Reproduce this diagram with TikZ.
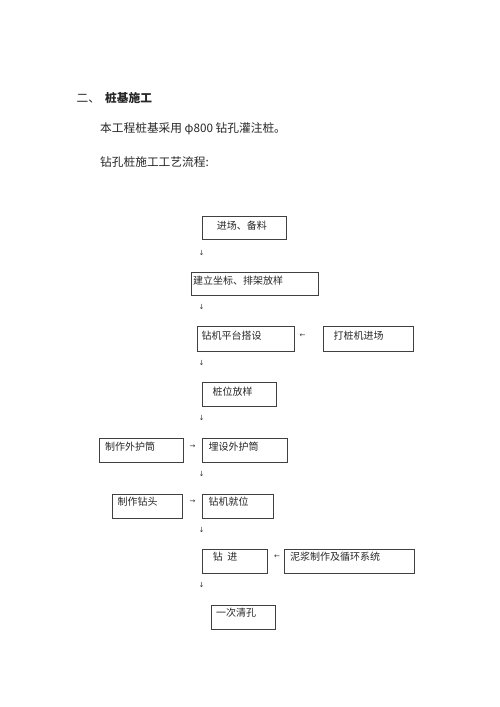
\documentclass[tikz,border=0pt]{standalone}
\usepackage{fontspec}
\newfontfamily\cjk{Noto Sans CJK SC}
\newfontfamily\arrowfont{DejaVu Sans}
\begin{document}
\begin{tikzpicture}[x=1pt,y=-1pt,
  box/.style={draw=black!75,line width=0.6pt,inner sep=0pt,anchor=north west},
  txt/.style={inner sep=0pt,anchor=west,font=\cjk\fontsize{10}{12}\selectfont,text=black!85},
  head/.style={inner sep=0pt,anchor=west,font=\cjk\fontsize{11.7}{14}\selectfont,text=black!85},
  arr/.style={inner sep=0pt,font=\arrowfont\fontsize{7}{8}\selectfont,text=black!80}]
\useasboundingbox (0,0) rectangle (500,707);
% headings
\node[head] (h1) at (76.5,98.5) {二、};
\node[head,font=\cjk\bfseries\fontsize{11.7}{14}\selectfont] (h2) at (105,98.5) {桩基施工};
\node[head] (h3) at (100,128.5) {本工程桩基采用 φ800 钻孔灌注桩。};
\node[head] (h4) at (100,162) {钻孔桩施工工艺流程:};
% boxes
\node[box,minimum width=84pt,minimum height=23.6pt] (b1) at (201.7,215.7) {};
\node[txt] (t1) at (216.7,225.5) {进场、备料};
\node[arr] (a1) at (201.5,252.5) {↓};
\node[box,minimum width=127.3pt,minimum height=23.3pt] (b2) at (190.7,271.7) {};
\node[txt] (t2) at (192.8,281) {建立坐标、排架放样};
\node[arr] (a2) at (201.5,307) {↓};
\node[box,minimum width=97.6pt,minimum height=25pt] (b3) at (196.7,325.7) {};
\node[txt] (t3) at (201.5,335.5) {钻机平台搭设};
\node[arr] (a3) at (302.5,335.5) {←};
\node[box,minimum width=90.6pt,minimum height=25pt] (b4) at (322.7,325.7) {};
\node[txt] (t4) at (333.5,335.5) {打桩机进场};
\node[arr] (a4) at (201.5,362.5) {↓};
\node[box,minimum width=73.4pt,minimum height=23.7pt] (b5) at (202.3,382.3) {};
\node[txt] (t5) at (212.3,392) {桩位放样};
\node[arr] (a5) at (201.5,418) {↓};
\node[box,minimum width=84pt,minimum height=24pt] (b6) at (99.3,438.3) {};
\node[txt] (t6) at (105,446.5) {制作外护筒};
\node[arr] (a6) at (192.5,446.5) {→};
\node[box,minimum width=84.4pt,minimum height=24pt] (b7) at (202.3,438.3) {};
\node[txt] (t7) at (208.3,446.5) {埋设外护筒};
\node[arr] (a7) at (201.5,473.5) {↓};
\node[box,minimum width=70pt,minimum height=23.7pt] (b8) at (111.7,494) {};
\node[txt] (t8) at (117.3,502) {制作钻头};
\node[arr] (a8) at (192.5,502) {→};
\node[box,minimum width=70.4pt,minimum height=23.7pt] (b9) at (202.3,494) {};
\node[txt] (t9) at (208.3,502) {钻机就位};
\node[arr] (a9) at (201.5,529.5) {↓};
\node[box,minimum width=65pt,minimum height=24pt] (b10) at (202.3,549.3) {};
\node[txt] (t10) at (212.7,557) {钻\ \ 进};
\node[arr] (a10) at (277,557) {←};
\node[box,minimum width=130pt,minimum height=24pt] (b11) at (284.3,549.3) {};
\node[txt] (t11) at (290,557) {泥浆制作及循环系统};
\node[arr] (a11) at (201.5,585) {↓};
\node[box,minimum width=64.3pt,minimum height=24.3pt] (b12) at (210.7,605) {};
\node[txt] (t12) at (216,613) {一次清孔};
\end{tikzpicture}
\end{document}
